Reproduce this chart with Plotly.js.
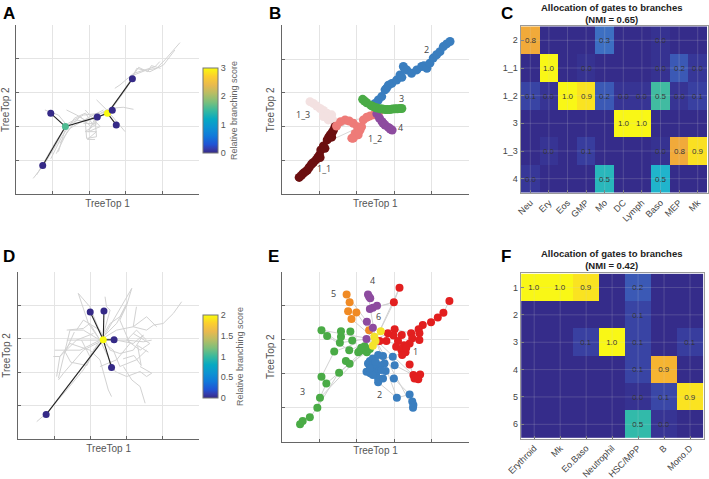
<!DOCTYPE html>
<html><head><meta charset="utf-8">
<script src="https://cdn.plot.ly/plotly-3.0.1.min.js"></script>
<style>html,body{margin:0;padding:0;background:#fff}#chart{width:709px;height:479px}</style>
</head><body><div id="chart"></div>
<script>
// ---------- Panel A ----------
const aTreeX = [0.47,0.75,1.07,1.35,1.66,1.93,2.20,2.57,2.84,3.21,3.57,3.84,4.07,4.48,null,
 0.56,1.11,1.43,1.84,2.30,2.66,3.02,3.30,3.66,4.03,4.34,null,
 1.38,1.66,1.89,1.93,2.20,2.16,1.98,2.30,1.89,null,
 0.79,1.16,1.38,1.25,1.16,null,
 2.20,2.48,2.75,2.98,null,
 2.57,2.93,3.21,null,
 2.70,2.84,3.21,3.48,3.80,3.93,null,
 1.20,1.48,2.02,2.39,null,
 1.84,2.20,1.89,2.20,1.95,2.16,null,
 0.95,1.25,1.60,1.90,2.10,2.45,null,
 1.10,1.40,1.75,2.05,2.30,null,
 3.10,3.35,3.60,3.70,3.95];
const aTreeY = [0.47,0.85,1.41,2.00,2.19,2.15,2.34,2.49,2.88,3.52,3.67,3.72,3.97,4.48,null,
 0.57,1.60,2.10,2.34,2.39,2.59,3.13,3.72,3.62,3.82,4.26,null,
 2.49,2.34,2.19,1.65,1.70,2.24,1.85,2.00,2.49,null,
 2.49,2.34,2.05,1.60,1.26,null,
 2.79,2.49,2.15,1.85,null,
 2.54,2.57,2.51,null,
 3.13,3.23,3.57,3.67,3.77,3.92,null,
 1.51,1.95,2.29,2.49,null,
 2.10,2.08,1.85,1.85,1.62,1.62,null,
 1.05,1.70,2.25,2.40,2.05,2.45,null,
 1.20,1.85,2.30,2.00,2.35,null,
 3.35,3.75,3.62,3.80,3.72];
const aNodeX = [0.73,0.95,1.35,2.22,2.50,2.63,2.74,3.18];
const aNodeY = [0.85,2.39,2.00,2.28,2.39,2.48,2.05,3.41];
const aNodeScore = [0,0,1.6,0,3,0,0,0];
const aEdges = [[0,2],[1,2],[2,3],[3,4],[4,5],[4,6],[4,7]];

// ---------- Panel B ----------
const bGrayX = [1.42,1.91,2.45,null,1.33,2.00,null,3.25,3.61];
const bGrayY = [1.90,2.20,2.30,null,1.61,1.95,null,3.68,3.70];
const bBranches = ["1_3","1_1","1_2","2","4","3"];
const bX = {
 "1_1":[0.46,0.52,0.57,0.63,0.68,0.73,0.79,0.84,0.91,0.96,1.00,1.02,1.04,1.11,1.15,1.21,1.25,1.29,1.33,1.34,1.38,1.42],
 "1_3":[0.75,0.84,0.93,1.02,1.11,1.20,1.29,1.36,1.42,1.24,1.11,1.33],
 "1_2":[1.46,1.57,1.69,1.80,1.91,2.02,1.96,1.91,2.04,2.09,2.18,2.27,2.36,2.46,2.58,1.87,2.13],
 "3":[2.16,2.21,2.27,2.38,2.43,2.49,2.55,2.63,2.69,2.76,2.82,2.89,2.96,3.03,3.09,3.16,3.21],
 "4":[2.54,2.61,2.68,2.71,2.76,2.85,2.90,2.95],
 "2":[2.49,2.58,2.67,2.76,2.80,2.85,2.94,3.07,3.16,3.21,3.25,3.29,3.34,3.47,3.61,3.74,3.80,3.88,3.96,4.05,4.14,4.23,4.32,4.41,4.50]
};
const bY = {
 "1_1":[0.50,0.56,0.62,0.67,0.72,0.80,0.89,0.94,1.02,1.09,1.16,1.09,1.31,1.43,1.36,1.61,1.69,1.76,1.69,1.82,1.90,2.00],
 "1_3":[2.74,2.69,2.61,2.54,2.48,2.40,2.30,2.20,2.10,2.20,2.30,2.35],
 "1_2":[2.02,2.15,2.20,2.17,2.10,2.00,1.80,1.66,1.76,1.90,2.20,2.28,2.32,2.35,2.40,1.66,2.00],
 "3":[2.81,2.76,2.71,2.63,2.60,2.57,2.55,2.53,2.52,2.51,2.51,2.51,2.52,2.53,2.53,2.54,2.54],
 "4":[2.38,2.25,2.15,2.10,2.05,1.98,1.93,1.90],
 "2":[2.69,2.79,2.89,3.09,3.14,3.23,3.28,3.38,3.53,3.46,3.78,3.70,3.68,3.58,3.68,3.78,3.80,3.73,3.88,4.03,4.13,4.22,4.37,4.45,4.52]
};
const bColors = {"1_1":"#6b0f10","1_3":"#f3e1e1","1_2":"#ee7b78","3":"#4aab46","4":"#8d4b9f","2":"#3a7ebf"};
const bLabelX = {"2":3.88,"3":3.21,"4":3.18,"1_2":2.49,"1_3":0.57,"1_1":1.13};
const bLabelY = {"2":4.27,"3":2.82,"4":1.97,"1_2":1.66,"1_3":2.37,"1_1":0.75};

// ---------- Panel C ----------
const cCols = ["Neu","Ery","Eos","GMP","Mo","DC","Lymph","Baso","MEP","Mk"];
const cRows = ["2","1_1","1_2","3","1_3","4"];
const cVals = [
 [0.80,0,0,0,0.27,0,0,0.02,0,0],
 [0,1.0,0,0.02,0,0,0,0.02,0.17,0.04],
 [0.08,0.03,1.0,0.93,0.17,0.03,0.03,0.52,0.03,0.07],
 [0,0,0,0,0,1.0,1.0,0,0,0],
 [0,0.03,0,0.06,0,0,0,0.02,0.80,0.92],
 [0.04,0,0,0,0.48,0,0,0.46,0,0]
];

// ---------- Panel D ----------
const dTreeX = [0.51,0.78,1.34,1.80,2.17,2.35,null,
 1.11,1.43,1.80,2.26,2.72,3.18,3.55,3.74,4.01,4.29,4.52,null,
 1.66,1.94,2.26,2.44,2.68,3.00,3.37,3.55,3.69,3.37,null,
 2.40,2.44,2.54,2.31,3.14,3.00,2.72,2.26,null,
 1.34,1.89,2.35,2.72,3.18,3.46,3.18,2.81,2.54,2.26,1.80,1.61,null,
 2.91,3.14,3.37,3.51,null,
 0.97,1.15,1.43,1.98,2.26,2.49,2.58,null,
 3.18,3.64,3.37,3.00,3.27,3.55,null,
 1.06,1.15,1.61,2.08,null,
 3.00,2.81,3.09,2.72,2.26,null,
 1.34,1.80,1.98,2.26,null,
 1.01,1.71,2.26,3.00,3.46,3.69,null,
 1.75,1.98,2.26,2.63,2.81,3.27,3.55,null,
 2.26,2.54,2.81,3.00,null,
 1.11,1.25,1.80,2.35,null,
 2.35,1.98,1.66,null,
 3.27,3.18,3.55,3.83,null,
 1.55,1.30,1.45,1.90,2.10,null,
 2.90,3.20,3.40,3.30,3.60];
const dTreeY = [0.52,0.77,1.47,2.07,2.76,2.97,null,
 1.82,3.26,3.26,2.96,3.26,3.36,3.26,3.41,3.46,3.76,4.11,null,
 4.36,3.46,2.96,2.56,2.02,1.87,2.02,1.87,1.97,2.17,null,
 4.26,3.96,3.86,2.96,4.51,4.01,3.46,2.96,null,
 2.96,2.96,2.97,2.96,2.86,3.11,2.66,2.56,2.66,3.26,3.56,3.26,null,
 2.17,1.77,1.57,1.07,null,
 2.47,2.47,2.86,2.66,2.37,1.47,1.27,null,
 3.16,2.86,2.66,2.96,3.26,2.96,null,
 1.87,2.47,2.96,3.16,null,
 4.01,3.56,2.86,2.37,2.17,null,
 3.26,3.31,3.46,2.96,null,
 2.66,2.66,2.96,2.96,2.91,2.96,null,
 2.96,2.47,2.96,2.66,2.17,2.37,2.66,null,
 2.96,3.46,3.66,4.06,null,
 1.77,1.97,2.66,2.96,null,
 2.96,3.96,4.36,null,
 3.96,3.36,3.66,3.36,null,
 3.20,2.60,2.30,2.20,2.70,null,
 2.40,2.50,2.20,2.80,2.60];
const dNodeX = [0.77,1.99,2.37,2.35,2.65,2.58];
const dNodeY = [0.73,3.80,3.83,2.97,2.97,2.14];
const dNodeScore = [0,0,0,2,0,0];
const dEdges = [[0,3],[1,3],[2,3],[4,3],[5,3]];

// ---------- Panel E ----------
const eEdgeX = [2.5,3.14,null,2.5,2.99,null,2.99,3.14,null,2.5,2.30,null,2.5,1.86,null,2.5,3.50,null,2.5,3.07,null,
 2.5,1.02,null,2.5,1.06,null,2.5,3.58,null,2.79,3.01,3.45,3.76,3.98,4.16,4.31,4.47,null,
 0.49,0.56,0.75,0.95,1.02,1.19,1.53,1.81,2.26,null,0.95,1.50,2.20,null,1.06,1.40,2.00,null,
 1.06,1.55,2.26,null,2.57,3.07,3.41,3.50,null,2.99,3.41,null,3.01,3.51,null,3.41,3.54,null,
 2.43,2.99,2.36,null,1.99,2.5,2.43,null,2.30,3.30,null,1.73,2.27,2.5,null,
 2.5,2.83,3.20,null,2.5,3.26,3.67,null,1.21,1.80,2.5];
const eEdgeY = [3.0,4.53,null,3.0,4.10,null,4.10,4.53,null,3.0,4.33,null,3.0,3.61,null,3.0,1.00,null,3.0,1.29,null,
 3.0,1.29,null,3.0,3.28,null,3.0,1.88,null,2.96,3.31,3.19,3.43,3.51,3.65,3.79,4.14,null,
 0.51,0.61,0.72,1.00,1.29,1.71,2.03,2.29,2.63,null,1.00,2.00,2.70,null,1.91,2.65,2.90,null,
 3.28,2.91,3.02,null,1.75,1.29,1.39,1.00,null,1.86,1.39,null,2.25,1.96,null,2.27,1.86,null,
 3.94,4.10,3.90,null,3.80,3.0,3.35,null,2.30,2.63,null,4.33,3.53,3.0,null,
 3.0,3.19,3.14,null,3.0,2.84,2.99,null,3.11,2.69,3.0];
const eClusters = ["3","2","1","5","4","6"];
const eX = {
 "1":[3.14,2.99,4.47,4.31,4.16,3.98,3.76,3.65,3.67,3.45,3.48,3.41,3.20,3.01,2.98,2.83,2.79,2.61,3.10,3.26,3.05,3.19,3.30,3.21,3.41,3.51,3.58,3.69,3.54,3.64,3.32,3.67],
 "2":[2.30,2.35,2.43,2.57,2.70,2.74,2.61,2.48,2.26,2.36,2.52,2.57,2.43,2.57,2.70,2.77,2.96,3.01,2.99,3.07,3.41,3.48,3.51,3.50,2.43,2.50,2.35,2.65],
 "3":[0.49,0.56,0.75,0.95,1.02,1.19,1.06,1.53,1.71,1.81,1.40,1.55,1.80,2.04,2.08,2.19,2.27,2.35,2.21,1.88,1.83,1.58,1.58,1.21,1.06,2.12],
 "5":[1.73,1.81,1.77,1.99,1.86,2.33],
 "4":[2.30,2.36,2.33,2.43,2.54,2.35,2.27,2.43,2.26],
 "6":[2.64,2.47,2.50,2.43]
};
const eY = {
 "1":[4.53,4.10,4.14,3.79,3.65,3.51,3.43,3.31,3.19,3.19,3.04,2.89,3.14,3.31,3.12,3.19,2.96,2.96,2.96,2.84,2.79,2.70,2.63,2.55,2.27,1.96,1.88,1.98,1.86,1.84,2.76,2.99],
 "2":[2.30,2.37,2.45,2.55,2.52,2.30,2.25,2.11,2.06,2.01,2.01,1.86,1.96,1.75,1.86,2.08,2.50,2.25,1.86,1.29,1.39,1.18,1.08,1.00,2.25,2.35,2.16,2.11],
 "3":[0.51,0.61,0.72,1.00,1.29,1.71,1.91,2.03,2.37,2.29,2.65,2.91,2.69,2.63,2.67,2.70,2.63,2.73,2.81,2.98,3.24,3.09,3.25,3.11,3.28,2.76],
 "5":[4.33,4.10,3.84,3.80,3.61,3.28],
 "4":[4.33,4.22,4.26,3.94,4.00,3.90,3.53,3.35,3.02],
 "6":[3.25,3.09,2.96,2.82]
};
const eColors = {"1":"#e21f1f","2":"#3a7ebf","3":"#4aab46","4":"#8d4b9f","5":"#f08a24","6":"#f4e42c"};
const eLabelX = {"4":2.41,"5":1.37,"6":2.58,"1":3.57,"2":2.61,"3":0.56};
const eLabelY = {"4":4.75,"5":4.36,"6":3.68,"1":2.65,"2":1.39,"3":1.49};

// ---------- Panel F ----------
const fCols = ["Erythroid","Mk","Eo.Baso","Neutrophil","HSC/MPP","B","Mono.D"];
const fRows = ["1","2","3","4","5","6"];
const fVals = [
 [1.0,1.0,0.93,0,0.17,0,0],
 [0,0,0,0,0.08,0,0],
 [0,0,0.07,1.0,0.08,0,0.06],
 [0,0,0,0,0.08,0.86,0],
 [0,0,0,0,0.02,0.09,0.93],
 [0,0,0,0,0.5,0.03,0]
];

// ---------- styling ----------
const FONT = 'Arial, "Liberation Sans", sans-serif';
const parula = [
 [0,'rgb(53,42,135)'],[0.05,'rgb(53,61,173)'],[0.1,'rgb(32,83,212)'],[0.2,'rgb(16,121,218)'],
 [0.3,'rgb(12,147,210)'],[0.4,'rgb(7,169,194)'],[0.5,'rgb(56,185,158)'],[0.6,'rgb(124,191,123)'],
 [0.7,'rgb(183,189,100)'],[0.8,'rgb(233,185,78)'],[0.9,'rgb(252,206,46)'],[1,'rgb(249,251,14)']
];
const heatScale = [
 [0,'rgb(53,44,138)'],[0.05,'rgb(56,58,155)'],[0.1,'rgb(58,74,170)'],[0.2,'rgb(60,96,186)'],
 [0.3,'rgb(62,118,198)'],[0.4,'rgb(35,152,206)'],[0.45,'rgb(28,178,212)'],[0.5,'rgb(50,186,170)'],
 [0.6,'rgb(124,191,123)'],[0.7,'rgb(190,182,95)'],[0.8,'rgb(241,170,58)'],[0.87,'rgb(247,182,48)'],
 [0.92,'rgb(250,224,34)'],[1,'rgb(249,247,22)']
];
const W = 709, H = 479;
const px = (a,b) => [a/W, b/W];
const py = (top,bot) => [1-bot/H, 1-top/H];

function edgeXY(nx, ny, edges){
  const x=[], y=[];
  edges.forEach(e=>{ x.push(nx[e[0]], nx[e[1]], null); y.push(ny[e[0]], ny[e[1]], null); });
  return {x, y};
}
function sAxis(domain, anchor, title, isY){
  return {domain, anchor, range:[0,5], tickvals:[1,2,3,4], showticklabels:false,
    ticks:'inside', ticklen:3, tickcolor:'#666', showgrid:true, gridcolor:'#e4e4e4', gridwidth:1,
    zeroline:false, showline:true, linecolor:'#666', linewidth:1, fixedrange:true,
    title:{text:title, font:{family:FONT, size:10, color:'#555'}, standoff:isY?4:5}};
}
function hAxis(domain, anchor, cats, isY){
  const ax = {domain, anchor, type:'category', categoryorder:'array', categoryarray:cats,
    ticks:'inside', ticklen:3, tickcolor:'#777', showgrid:false, zeroline:false,
    showline:true, mirror:true, linecolor:'#999', linewidth:1, fixedrange:true,
    tickfont:{family:FONT, size:9, color:'#444'}};
  if(isY){ ax.autorange='reversed'; } else { ax.tickangle=-45; }
  return ax;
}
function cbar(yTop, yBot, vals){
  return {x:203/W, xanchor:'left', xpad:0, ypad:0, y:1-(yTop+yBot)/2/H, yanchor:'middle',
    len:(yBot-yTop)/H, lenmode:'fraction', thickness:15, thicknessmode:'pixels',
    outlinewidth:1, outlinecolor:'#777', tickvals:vals, ticks:'',
    tickfont:{family:FONT, size:9, color:'#555'},
    title:{text:'Relative branching score', side:'right', font:{family:FONT, size:9, color:'#666'}}};
}
function heatText(vals){ return vals.map(r=>r.map(v=> v>0 ? v.toFixed(1) : '')); }

const traces = [];
// A
traces.push({type:'scatter', mode:'lines', x:aTreeX, y:aTreeY, xaxis:'x', yaxis:'y',
  line:{color:'#d2d2d2', width:1}, hoverinfo:'skip'});
const aE = edgeXY(aNodeX, aNodeY, aEdges);
traces.push({type:'scatter', mode:'lines', x:aE.x, y:aE.y, xaxis:'x', yaxis:'y', line:{color:'#222', width:1.1}});
traces.push({type:'scatter', mode:'markers', x:aNodeX, y:aNodeY, xaxis:'x', yaxis:'y',
  marker:{size:7, color:aNodeScore, colorscale:parula, cmin:0, cmax:3, showscale:true,
    colorbar:cbar(68,153,[0,1,2,3])}});
// B
traces.push({type:'scatter', mode:'lines', x:bGrayX, y:bGrayY, xaxis:'x2', yaxis:'y2', line:{color:'#d8d8d8', width:1}});
bBranches.forEach(b=>{
  traces.push({type:'scatter', mode:'markers', x:bX[b], y:bY[b], xaxis:'x2', yaxis:'y2',
    marker:{size:9, color:bColors[b]}});
});
// C
traces.push({type:'heatmap', z:cVals, x:cCols, y:cRows, xaxis:'x3', yaxis:'y3',
  colorscale:heatScale, zmin:0, zmax:1, showscale:false, text:heatText(cVals), texttemplate:'%{text}',
  textfont:{family:FONT, size:8, color:'#333'}});
// D
traces.push({type:'scatter', mode:'lines', x:dTreeX, y:dTreeY, xaxis:'x4', yaxis:'y4',
  line:{color:'#d2d2d2', width:1}});
const dE = edgeXY(dNodeX, dNodeY, dEdges);
traces.push({type:'scatter', mode:'lines', x:dE.x, y:dE.y, xaxis:'x4', yaxis:'y4', line:{color:'#222', width:1.1}});
traces.push({type:'scatter', mode:'markers', x:dNodeX, y:dNodeY, xaxis:'x4', yaxis:'y4',
  marker:{size:7, color:dNodeScore, colorscale:parula, cmin:0, cmax:2, showscale:true,
    colorbar:cbar(315,398,[0,0.5,1,1.5,2])}});
// E
traces.push({type:'scatter', mode:'lines', x:eEdgeX, y:eEdgeY, xaxis:'x5', yaxis:'y5', line:{color:'#d2d2d2', width:1}});
eClusters.forEach(c=>{
  traces.push({type:'scatter', mode:'markers', x:eX[c], y:eY[c], xaxis:'x5', yaxis:'y5',
    marker:{size:8, color:eColors[c]}});
});
// F
traces.push({type:'heatmap', z:fVals, x:fCols, y:fRows, xaxis:'x6', yaxis:'y6',
  colorscale:heatScale, zmin:0, zmax:1, showscale:false, text:heatText(fVals), texttemplate:'%{text}',
  textfont:{family:FONT, size:8, color:'#333'}});

// grid lines over heatmaps (at category centres)
const shapes = [];
function heatGrid(cols, rows, xr, yr){
  cols.forEach((c,i)=>shapes.push({type:'line', xref:xr, yref:yr, x0:i, x1:i, y0:-0.5, y1:rows.length-0.5,
    line:{color:'rgba(210,210,210,0.2)', width:1}, layer:'above'}));
  rows.forEach((r,i)=>shapes.push({type:'line', xref:xr, yref:yr, y0:i, y1:i, x0:-0.5, x1:cols.length-0.5,
    line:{color:'rgba(210,210,210,0.2)', width:1}, layer:'above'}));
}
heatGrid(cCols, cRows, 'x3', 'y3');
heatGrid(fCols, fRows, 'x6', 'y6');

const annotations = [];
[['A',1,2],['B',267,2],['C',499,2],['D',1,245],['E',266,245],['F',499,245]].forEach(l=>{
  annotations.push({text:'<b>'+l[0]+'</b>', xref:'paper', yref:'paper', x:l[1]/W, y:1-l[2]/H,
    xanchor:'left', yanchor:'top', showarrow:false, font:{family:FONT, size:17, color:'#000'}});
});
annotations.push({text:'<b>Allocation of gates to branches</b><br><b>(NMI = 0.65)</b>', xref:'paper', yref:'paper',
  x:611/W, y:1-0/H, xanchor:'center', yanchor:'top', showarrow:false, font:{family:FONT, size:9.5, color:'#222'}});
annotations.push({text:'<b>Allocation of gates to branches</b><br><b>(NMI = 0.42)</b>', xref:'paper', yref:'paper',
  x:611/W, y:1-246/H, xanchor:'center', yanchor:'top', showarrow:false, font:{family:FONT, size:9.5, color:'#222'}});
Object.keys(bLabelX).forEach(k=>annotations.push({text:k, xref:'x2', yref:'y2', x:bLabelX[k], y:bLabelY[k],
  showarrow:false, font:{family:'"Open Sans", Arial, sans-serif', size:9, color:'#444'}}));
Object.keys(eLabelX).forEach(k=>annotations.push({text:k, xref:'x5', yref:'y5', x:eLabelX[k], y:eLabelY[k],
  showarrow:false, font:{family:'"Open Sans", Arial, sans-serif', size:9, color:'#444'}}));

const layout = {
  width:W, height:H, margin:{l:0,r:0,t:0,b:0}, paper_bgcolor:'#fff', plot_bgcolor:'#fff',
  showlegend:false, font:{family:FONT},
  xaxis: sAxis(px(16,199),'y','TreeTop 1',false),
  yaxis: sAxis(py(25,194.3),'x','TreeTop 2',true),
  xaxis2: sAxis(px(282,468.7),'y2','TreeTop 1',false),
  yaxis2: sAxis(py(25.3,194.3),'x2','TreeTop 2',true),
  xaxis3: hAxis(px(520.5,707.5),'y3',cCols,false),
  yaxis3: hAxis(py(26,193),'x3',cRows,true),
  xaxis4: sAxis(px(18.3,199),'y4','TreeTop 1',false),
  yaxis4: sAxis(py(272,439),'x4','TreeTop 2',true),
  xaxis5: sAxis(px(281.7,469.3),'y5','TreeTop 1',false),
  yaxis5: sAxis(py(271.7,441.7),'x5','TreeTop 2',true),
  xaxis6: hAxis(px(520.7,703.5),'y6',fCols,false),
  yaxis6: hAxis(py(273.3,438.5),'x6',fRows,true),
  shapes, annotations
};
Plotly.newPlot('chart', traces, layout, {displayModeBar:false, staticPlot:true});
</script></body></html>
